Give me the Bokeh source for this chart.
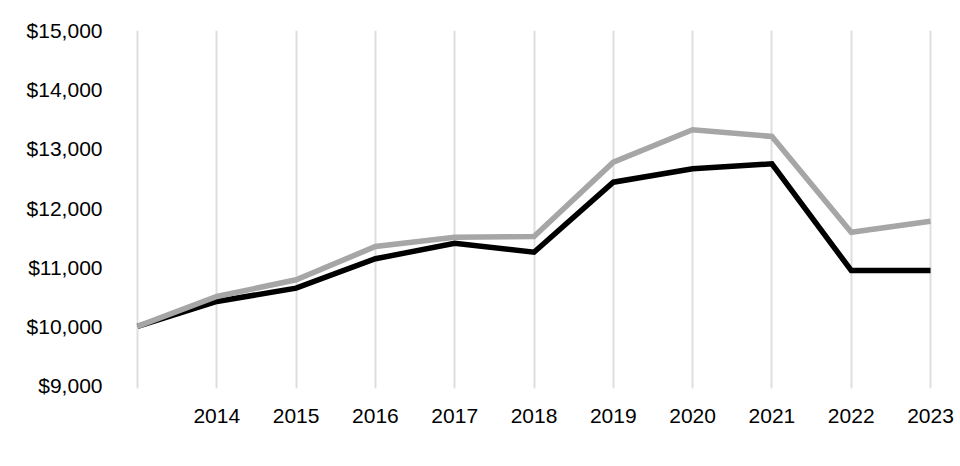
from bokeh.plotting import figure
from bokeh.models import Range1d, FixedTicker, NumeralTickFormatter
from bokeh.embed import file_html
from bokeh.resources import INLINE

years = [2013, 2014, 2015, 2016, 2017, 2018, 2019, 2020, 2021, 2022, 2023]
fund = [10000, 10420, 10645, 11142, 11405, 11253, 12436, 12663, 12747, 10944, 10944]
index = [10000, 10505, 10787, 11349, 11507, 11519, 12774, 13322, 13209, 11591, 11777]
y_ticks = [9000, 10000, 11000, 12000, 13000, 14000, 15000]

FONT = "Liberation Sans"

p = figure(width=960, height=466, output_backend="svg", toolbar_location=None,
           x_range=Range1d(2012.7856, 2023.189), y_range=Range1d(8949.3, 15000),
           min_border_left=120, min_border_right=15, min_border_top=30, min_border_bottom=78)
p.outline_line_color = None
p.background_fill_color = "white"
p.border_fill_color = "white"

p.line(years, fund, line_color="#000000", line_width=5.5, line_join="miter")
p.line(years, index, line_color="#a6a6a6", line_width=5.5, line_join="miter")

p.xaxis.ticker = FixedTicker(ticks=years)
p.xaxis.major_label_overrides = {2013: ""}
p.yaxis.ticker = FixedTicker(ticks=y_ticks)
p.yaxis.formatter = NumeralTickFormatter(format="$0,0")

for ax in (p.xaxis[0], p.yaxis[0]):
    ax.axis_line_color = None
    ax.major_tick_line_color = None
    ax.minor_tick_line_color = None
    ax.major_tick_in = 0
    ax.major_tick_out = 0
    ax.minor_tick_in = 0
    ax.minor_tick_out = 0
    ax.major_label_text_font = FONT
    ax.major_label_text_font_size = "21px"
    ax.major_label_text_color = "#000000"
p.xaxis.major_label_standoff = 20
p.yaxis.major_label_standoff = 18

p.xgrid.grid_line_color = "#dedede"
p.xgrid.grid_line_width = 2
p.ygrid.grid_line_color = None

open("out.html", "w").write(file_html(p, INLINE))
